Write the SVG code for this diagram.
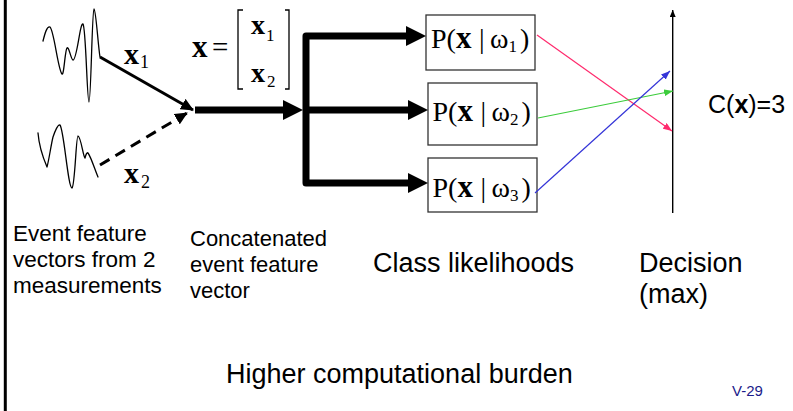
<svg xmlns="http://www.w3.org/2000/svg" width="793" height="411" viewBox="0 0 793 411">
  <style>
    .sans { font-family: "Liberation Sans", Arial, sans-serif; fill: #000; }
    .ser { font-family: "Liberation Serif", "Times New Roman", serif; fill: #000; }
    .b { font-weight: bold; }
    .wave { fill: none; stroke: #000; stroke-width: 1.3; stroke-linejoin: round; stroke-linecap: round; }
    .box { fill: #fff; stroke: #333; stroke-width: 1.3; }
    .thick { fill: none; stroke: #000; stroke-width: 7; stroke-linejoin: round; }
    .feat { fill: none; stroke: #000; stroke-width: 3; }
    .score { fill: none; stroke-width: 1.2; }
  </style>
  <defs>
    <marker id="bigHead" markerUnits="userSpaceOnUse" markerWidth="20" markerHeight="20" refX="2" refY="10" orient="auto-start-reverse">
      <path d="M0,0 L20,10 L0,20 z" fill="#000"/>
    </marker>
    <marker id="featHead" markerUnits="userSpaceOnUse" markerWidth="13" markerHeight="12" refX="12" refY="6" orient="auto">
      <path d="M0,0 L13,6 L0,12 z" fill="#000"/>
    </marker>
    <marker id="axisHead" markerUnits="userSpaceOnUse" markerWidth="7" markerHeight="6" refX="7" refY="3" orient="auto">
      <path d="M0,0 L7,3 L0,6 z" fill="#000"/>
    </marker>
    <marker id="pinkHead" markerUnits="userSpaceOnUse" markerWidth="9" markerHeight="7" refX="9" refY="3.5" orient="auto">
      <path d="M0,0 L9,3.5 L0,7 z" fill="#ff2a6d"/>
    </marker>
    <marker id="greenHead" markerUnits="userSpaceOnUse" markerWidth="9" markerHeight="7" refX="9" refY="3.5" orient="auto">
      <path d="M0,0 L9,3.5 L0,7 z" fill="#3ccc3c"/>
    </marker>
    <marker id="blueHead" markerUnits="userSpaceOnUse" markerWidth="9" markerHeight="7" refX="9" refY="3.5" orient="auto">
      <path d="M0,0 L9,3.5 L0,7 z" fill="#3535d8"/>
    </marker>
  </defs>

  <rect width="793" height="411" fill="#fff"/>
  <!-- slide frame edge -->
  <line x1="5.3" y1="0" x2="5.3" y2="411" stroke="#000" stroke-width="3"/>

  <!-- measurement 1 signal -->
  <g id="signal1">
    <path class="wave" d="M43,41 C45,33 47,26 50,27 C54,30 58,70 62,74 C64,76 65,50 67,48 C69,46 71,60 73,60 C77,60 80,22 83,24 C86,28 87,102 89,102 C91,102 92,10 94,9 C96,10 98,45 100,57"/>
    <text class="ser b" x="124" y="64" font-size="30">x</text>
    <text class="ser" x="140" y="68" font-size="18">1</text>
  </g>

  <!-- measurement 2 signal -->
  <g id="signal2">
    <path class="wave" d="M38,133 C39,145 44,160 47,167 C49,160 51,145 53,137 C55,131 58,124 60,125 C64,130 68,188 72,188 C75,186 76,136 78,136 C81,137 83,156 85,158 C86,154 87,152 88,153 C91,157 95,170 98,177"/>
    <text class="ser b" x="124" y="183" font-size="30">x</text>
    <text class="ser" x="141" y="188" font-size="18">2</text>
  </g>

  <!-- concatenated feature vector -->
  <g id="concat">
    <text class="ser b" x="192" y="57" font-size="31">x</text>
    <text class="ser" x="212" y="57" font-size="29">=</text>
    <path d="M243,10 H238 V89 H243" fill="none" stroke="#000" stroke-width="1.3"/>
    <path d="M285,10 H289 V89 H285" fill="none" stroke="#000" stroke-width="1.3"/>
    <text class="ser b" x="251" y="34" font-size="28">x</text>
    <text class="ser" x="266" y="41" font-size="17">1</text>
    <text class="ser b" x="251" y="82" font-size="28">x</text>
    <text class="ser" x="267" y="87" font-size="17">2</text>
  </g>

  <!-- class likelihood blocks -->
  <g id="likelihood1">
    <rect class="box" x="426" y="15" width="109" height="55"/>
    <text class="ser" y="48" font-size="28"><tspan x="431">P(</tspan><tspan class="b" font-size="31">x</tspan><tspan x="479">|</tspan><tspan x="490">ω</tspan><tspan font-size="17" dy="4">1</tspan><tspan x="520" dy="-4">)</tspan></text>
  </g>
  <g id="likelihood2">
    <rect class="box" x="428" y="83" width="109" height="62"/>
    <text class="ser" y="121" font-size="28"><tspan x="432.5">P(</tspan><tspan class="b" font-size="31">x</tspan><tspan x="480.5">|</tspan><tspan x="491.5">ω</tspan><tspan font-size="17" dy="4">2</tspan><tspan x="521.5" dy="-4">)</tspan></text>
  </g>
  <g id="likelihood3">
    <rect class="box" x="428" y="158" width="109" height="54"/>
    <text class="ser" y="197" font-size="28"><tspan x="432.5">P(</tspan><tspan class="b" font-size="31">x</tspan><tspan x="480.5">|</tspan><tspan x="491.5">ω</tspan><tspan font-size="17" dy="4">3</tspan><tspan x="521.5" dy="-4">)</tspan></text>
  </g>

  <!-- decision axis -->
  <g id="decision">
    <line x1="672.7" y1="213" x2="672.7" y2="10" stroke="#000" stroke-width="1.4" marker-end="url(#axisHead)"/>
    <text class="sans" x="708" y="113" font-size="25">C(<tspan class="b">x</tspan>)=3</text>
  </g>

  <!-- connectors -->
  <g id="connectors">
    <line class="feat" x1="100" y1="57" x2="193" y2="110" marker-end="url(#featHead)"/>
    <line class="feat" x1="100" y1="165" x2="187" y2="113" stroke-dasharray="11,7" marker-end="url(#featHead)"/>
    <line class="thick" x1="195" y1="110" x2="285" y2="110" marker-end="url(#bigHead)"/>
    <path class="thick" d="M408,36 H306 V183 H410" marker-start="url(#bigHead)" marker-end="url(#bigHead)"/>
    <line class="thick" x1="306" y1="110" x2="410" y2="110" marker-end="url(#bigHead)"/>
    <line class="score" stroke="#ff2a6d" x1="537" y1="35" x2="672" y2="131" marker-end="url(#pinkHead)"/>
    <line class="score" stroke="#3ccc3c" x1="538" y1="118" x2="673" y2="91" marker-end="url(#greenHead)"/>
    <line class="score" stroke="#3535d8" x1="535" y1="193" x2="670" y2="71" marker-end="url(#blueHead)"/>
  </g>

  <!-- stage captions -->
  <g id="captions">
    <text class="sans" x="13" font-size="22.5"><tspan x="13" y="241">Event feature</tspan><tspan x="13" y="267">vectors from 2</tspan><tspan x="13" y="293">measurements</tspan></text>
    <text class="sans" font-size="22"><tspan x="190" y="246">Concatenated</tspan><tspan x="190" y="272">event feature</tspan><tspan x="190" y="298">vector</tspan></text>
    <text class="sans" x="373" y="272" font-size="27">Class likelihoods</text>
    <text class="sans" font-size="27"><tspan x="639" y="272">Decision</tspan><tspan x="639" y="303">(max)</tspan></text>
    <text class="sans" x="226" y="383" font-size="27">Higher computational burden</text>
    <text class="sans" x="732" y="396" font-size="15" style="fill:#1b1b8a">V-29</text>
  </g>
</svg>
